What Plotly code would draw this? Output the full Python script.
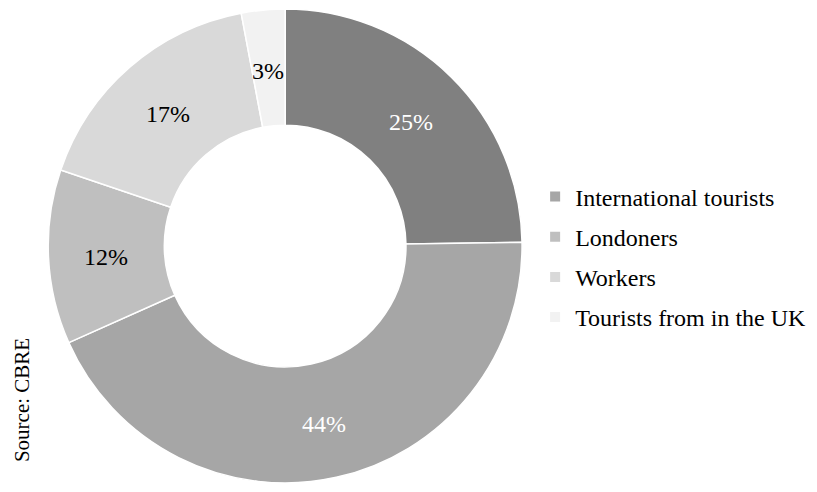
import math
import plotly.graph_objects as go

# Share of visitors by group (per cent), clockwise from 12 o'clock
shares = [25, 44, 12, 17, 3]
slice_colors = ["#808080", "#a6a6a6", "#bfbfbf", "#d9d9d9", "#f2f2f2"]
label_colors = ["#ffffff", "#ffffff", "#000000", "#000000", "#000000"]

# Legend entries and their swatch colours
legend_labels = ["International tourists", "Londoners", "Workers", "Tourists from in the UK"]
legend_colors = slice_colors[1:]

source_note = "Source: CBRE"

FONT = "'Times New Roman', 'Liberation Serif', serif"

W, H = 817, 492
MARGIN_T, MARGIN_B = 9, 9
PIE_X = (0.059, 0.639)
HOLE = 0.51

fig = go.Figure()

fig.add_trace(go.Pie(
    values=shares,
    textinfo="none",
    marker=dict(colors=slice_colors, line=dict(color="#ffffff", width=1.5)),
    hole=HOLE,
    sort=False,
    direction="clockwise",
    rotation=0,
    showlegend=False,
    domain=dict(x=list(PIE_X), y=[0, 1]),
    hoverinfo="skip",
))

# Percentage labels centred in the ring at each slice's mid-angle
plot_h = H - MARGIN_T - MARGIN_B
outer_r = min((PIE_X[1] - PIE_X[0]) * W, plot_h) / 2
label_r = outer_r * (1 + HOLE) / 2
cx = (PIE_X[0] + PIE_X[1]) / 2
total = sum(shares)
cum = 0
for v, col in zip(shares, label_colors):
    mid = (cum + v / 2) / total * 2 * math.pi
    cum += v
    fig.add_annotation(
        text=f"{v}%", showarrow=False,
        xref="paper", yref="paper",
        x=cx + label_r * math.sin(mid) / W,
        y=0.5 + (label_r * math.cos(mid) - 3) / plot_h,
        xanchor="center", yanchor="middle",
        font=dict(family=FONT, size=24, color=col),
    )

for i, (name, col) in enumerate(zip(legend_labels, legend_colors)):
    fig.add_trace(go.Scatter(
        x=[None], y=[None], mode="markers", name=name,
        legendgroup=f"g{i}",
        marker=dict(symbol="square", size=10, color=col),
    ))

fig.add_annotation(
    text=source_note, textangle=-90, showarrow=False,
    xref="paper", yref="paper", x=0.027, y=0.175, xanchor="center", yanchor="middle",
    font=dict(family=FONT, size=21, color="#000000"),
)

fig.update_layout(
    width=W, height=H,
    margin=dict(l=0, r=0, t=MARGIN_T, b=MARGIN_B),
    paper_bgcolor="#ffffff", plot_bgcolor="#ffffff",
    font=dict(family=FONT),
    xaxis=dict(visible=False), yaxis=dict(visible=False),
    legend=dict(
        x=0.655, y=0.477, xanchor="left", yanchor="middle",
        font=dict(family=FONT, size=24, color="#000000"),
        traceorder="grouped", tracegroupgap=6,
        itemwidth=30, bgcolor="rgba(0,0,0,0)",
    ),
)

fig.write_html("out.html")
